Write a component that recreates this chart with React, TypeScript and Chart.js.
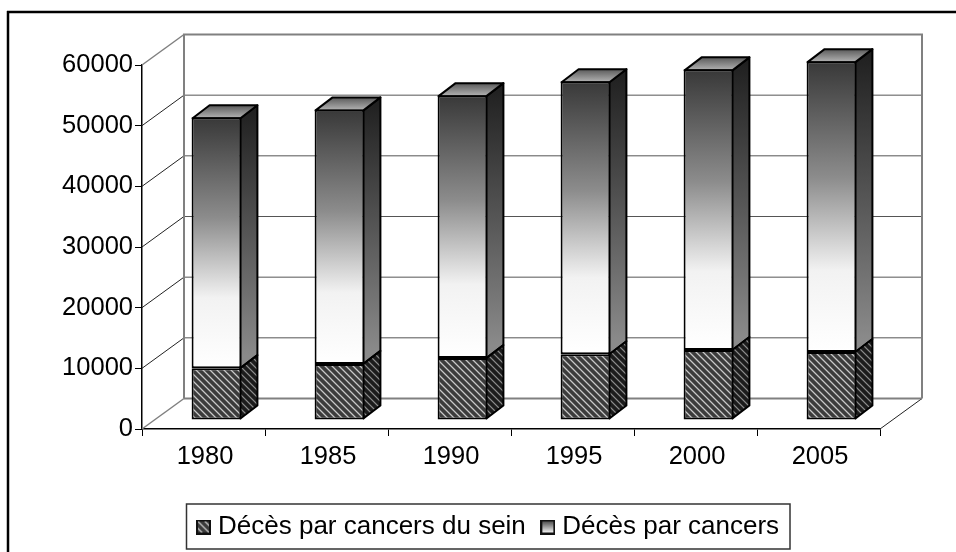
import React, { useEffect, useRef } from "react";
import { Chart, registerables } from "chart.js";

Chart.register(...registerables);

const years = ["1980", "1985", "1990", "1995", "2000", "2005"];
const breastDeaths = [8550, 9250, 10200, 10850, 11550, 11200];
const otherCancerDeaths = [41350, 41950, 43350, 45000, 46250, 47950];
const seriesNames = ["Décès par cancers du sein", "Décès par cancers"];
const yTickStep = 10000;
const yMax = 60000;

const FONT = "'Liberation Sans', Arial, sans-serif";
const WALL_DX = 42;
const WALL_DY = -30.5;
const BAR_SX = 13;
const BAR_SY = -9;
const BAR_DX = 17;
const BAR_DY = -13;

function hatch(dark: string, mid: string, light: string) {
  const c = document.createElement("canvas");
  c.width = 7;
  c.height = 7;
  const g = c.getContext("2d")!;
  for (let y = 0; y < 7; y++) {
    for (let x = 0; x < 7; x++) {
      const k = (x - y + 7) % 7;
      g.fillStyle = k === 0 ? light : k === 1 || k === 6 ? mid : dark;
      g.fillRect(x, y, 1, 1);
    }
  }
  return c;
}

function swatch(kind: "hatch" | "grad") {
  const c = document.createElement("canvas");
  c.width = 15;
  c.height = 15;
  const g = c.getContext("2d")!;
  if (kind === "hatch") {
    g.fillStyle = g.createPattern(hatch("#3c3c3c", "#777", "#c8c8c8"), "repeat")!;
  } else {
    const lg = g.createLinearGradient(0, 1, 0, 14);
    lg.addColorStop(0, "#444");
    lg.addColorStop(0.55, "#aaa");
    lg.addColorStop(1, "#fff");
    g.fillStyle = lg;
  }
  g.fillRect(0, 0, 15, 15);
  g.strokeStyle = "#111";
  g.lineWidth = 2;
  g.strokeRect(1, 1, 13, 13);
  return c;
}

function poly(ctx: CanvasRenderingContext2D, pts: number[][], fill: any) {
  ctx.beginPath();
  pts.forEach((p, i) => (i ? ctx.lineTo(p[0], p[1]) : ctx.moveTo(p[0], p[1])));
  ctx.closePath();
  ctx.fillStyle = fill;
  ctx.fill();
  ctx.strokeStyle = "#000";
  ctx.lineWidth = 2;
  ctx.lineJoin = "round";
  ctx.stroke();
}

function line(ctx: CanvasRenderingContext2D, x1: number, y1: number, x2: number, y2: number, color: string, w: number) {
  ctx.beginPath();
  ctx.moveTo(x1, y1);
  ctx.lineTo(x2, y2);
  ctx.strokeStyle = color;
  ctx.lineWidth = w;
  ctx.stroke();
}

const scene3d = {
  id: "scene3d",
  beforeLayout(chart: any) {
    const legend = chart.legend;
    if (legend && !legend.__wrapped) {
      const fit = legend.fit;
      legend.fit = function () {
        fit.call(this);
        this.height = 40;
      };
      legend.__wrapped = true;
    }
  },
  afterLayout(chart: any) {
    const legend = chart.legend;
    legend.left = 181.5;
    legend.right = 956;
    legend.top = 493.5;
    legend.bottom = 549;
  },
  beforeDraw(chart: any) {
    const { ctx, width, height } = chart;
    ctx.save();
    ctx.fillStyle = "#fff";
    ctx.fillRect(0, 0, width, height);
    // outer chart frame
    line(ctx, 8, 11, 8, height, "#000", 2.5);
    line(ctx, 7, 12, width, 12, "#000", 2.5);
    // legend frame
    ctx.strokeStyle = "#333";
    ctx.lineWidth = 1.5;
    ctx.strokeRect(186.5, 504, 603.5, 45);
    ctx.restore();
  },
  beforeDatasetsDraw(chart: any) {
    const { ctx, chartArea: a, scales } = chart;
    const y = scales.y;
    ctx.save();
    const bx1 = a.left + WALL_DX;
    const bx2 = a.right + WALL_DX;
    y.ticks.forEach((t: any) => {
      const py = y.getPixelForValue(t.value);
      if (t.value === 0 || t.value === yMax) return;
      line(ctx, a.left, py, bx1, py + WALL_DY, "#222", 1);
      line(ctx, bx1, py + WALL_DY, bx2, py + WALL_DY, "#555", 1);
    });
    const top = y.getPixelForValue(yMax);
    const zero = y.getPixelForValue(0);
    line(ctx, a.left, top, bx1, top + WALL_DY, "#808080", 1.5);
    line(ctx, a.left, zero, bx1, zero + WALL_DY, "#808080", 1.5);
    line(ctx, a.right, zero, bx2, zero + WALL_DY, "#222", 1);
    line(ctx, bx1 - 1, top + WALL_DY, bx2 + 1, top + WALL_DY, "#808080", 2);
    line(ctx, bx1, top + WALL_DY, bx1, zero + WALL_DY, "#808080", 2);
    line(ctx, bx2, top + WALL_DY, bx2, zero + WALL_DY, "#808080", 2);
    line(ctx, bx1, zero + WALL_DY, bx2, zero + WALL_DY, "#808080", 2);

    // Depth faces of every bar, from the elements the library laid out
    const sideHatch = ctx.createPattern(hatch("#1c1c1c", "#444", "#8a8a8a"), "repeat");
    const lower = chart.getDatasetMeta(0).data;
    const upper = chart.getDatasetMeta(1).data;
    lower.forEach((el: any, i: number) => {
      const u = upper[i];
      const L = el.x - el.width / 2 + BAR_SX + 1;
      const R = el.x + el.width / 2 + BAR_SX - 1;
      const B = el.base + BAR_SY - 1;
      const M = el.y + BAR_SY;
      const T = u.y + BAR_SY + 1;
      const sideGrad = ctx.createLinearGradient(0, T + BAR_DY, 0, M + BAR_DY);
      sideGrad.addColorStop(0, "#1e1e1e");
      sideGrad.addColorStop(1, "#8a8a8a");
      poly(ctx, [[R, T], [R + BAR_DX, T + BAR_DY], [R + BAR_DX, M + BAR_DY], [R, M]], sideGrad);
      poly(ctx, [[R, M], [R + BAR_DX, M + BAR_DY], [R + BAR_DX, B + BAR_DY], [R, B]], sideHatch);
      const topGrad = ctx.createLinearGradient(0, T + BAR_DY, 0, T);
      topGrad.addColorStop(0, "#5a5a5a");
      topGrad.addColorStop(1, "#b4b4b4");
      poly(ctx, [[L, T], [L + BAR_DX, T + BAR_DY], [R + BAR_DX, T + BAR_DY], [R, T]], topGrad);
    });
    ctx.restore();
    ctx.save();
    ctx.translate(BAR_SX, BAR_SY);
  },
  afterDatasetsDraw(chart: any) {
    chart.ctx.restore();
  },
};

export default function App() {
  const ref = useRef<HTMLCanvasElement>(null);
  useEffect(() => {
    const canvas = ref.current!;
    const ctx2d = canvas.getContext("2d")!;
    const frontHatch = ctx2d.createPattern(hatch("#3c3c3c", "#777", "#c8c8c8"), "repeat");
    const swatches = [swatch("hatch"), swatch("grad")];
    const upperFill = (c: any) => {
      if (c.type !== "data") return "#888";
      const y = c.chart.scales.y;
      const top = y.getPixelForValue(breastDeaths[c.dataIndex] + otherCancerDeaths[c.dataIndex]);
      const bottom = y.getPixelForValue(breastDeaths[c.dataIndex]);
      const g = c.chart.ctx.createLinearGradient(0, top, 0, bottom);
      g.addColorStop(0, "#383838");
      g.addColorStop(0.4, "#8c8c8c");
      g.addColorStop(0.72, "#f2f2f2");
      g.addColorStop(1, "#ffffff");
      return g;
    };
    const chart = new Chart(canvas, {
      type: "bar",
      data: {
        labels: years,
        datasets: [
          {
            label: seriesNames[0],
            data: breastDeaths,
            backgroundColor: frontHatch as any,
            borderColor: "#000",
            borderWidth: 2,
            borderSkipped: false,
            clip: false as any,
          },
          {
            label: seriesNames[1],
            data: otherCancerDeaths,
            backgroundColor: upperFill as any,
            borderColor: "#000",
            borderWidth: 2,
            borderSkipped: false,
            clip: false as any,
          },
        ],
      },
      options: {
        responsive: false,
        animation: false,
        devicePixelRatio: 1,
        layout: { autoPadding: false, padding: { top: 65, left: 0, right: 76, bottom: 0 } },
        datasets: { bar: { categoryPercentage: 1, barPercentage: 0.405 } },
        scales: {
          x: {
            stacked: true,
            afterFit: (s: any) => {
              s.height = 83;
            },
            grid: { drawOnChartArea: false, drawTicks: true, tickLength: 7, tickColor: "#000" },
            border: { color: "#000", width: 1.5 },
            ticks: { color: "#000", font: { family: FONT, size: 25.5 }, padding: 6, maxRotation: 0, labelOffset: 1.5 },
          },
          y: {
            stacked: true,
            min: 0,
            max: yMax,
            afterFit: (s: any) => {
              s.width = 142;
            },
            grid: { drawOnChartArea: false, drawTicks: true, tickLength: 7, tickColor: "#000" },
            border: { color: "#000", width: 1.5 },
            ticks: { color: "#000", stepSize: yTickStep, font: { family: FONT, size: 25.5 }, padding: 2, callback: (v: any) => String(v) },
          },
        },
        plugins: {
          title: { display: false },
          tooltip: { enabled: false },
          legend: {
            display: true,
            position: "bottom",
            align: "start",
            labels: {
              color: "#000",
              font: { family: FONT, size: 26 },
              padding: 20.5,
              usePointStyle: true,
              pointStyleWidth: 3,
              generateLabels: () =>
                seriesNames.map((text, i) => ({
                  text,
                  datasetIndex: i,
                  hidden: false,
                  pointStyle: swatches[i],
                  fillStyle: "#000",
                  strokeStyle: "#000",
                  lineWidth: 0,
                  fontColor: "#000",
                })) as any,
            },
          },
        },
      } as any,
      plugins: [scene3d as any],
    });
    return () => chart.destroy();
  }, []);
  return (
    <div style={{ position: "fixed", left: 0, top: 0, width: 956, height: 552, background: "#fff" }}>
      <canvas ref={ref} width={956} height={552} style={{ display: "block" }} />
    </div>
  );
}
